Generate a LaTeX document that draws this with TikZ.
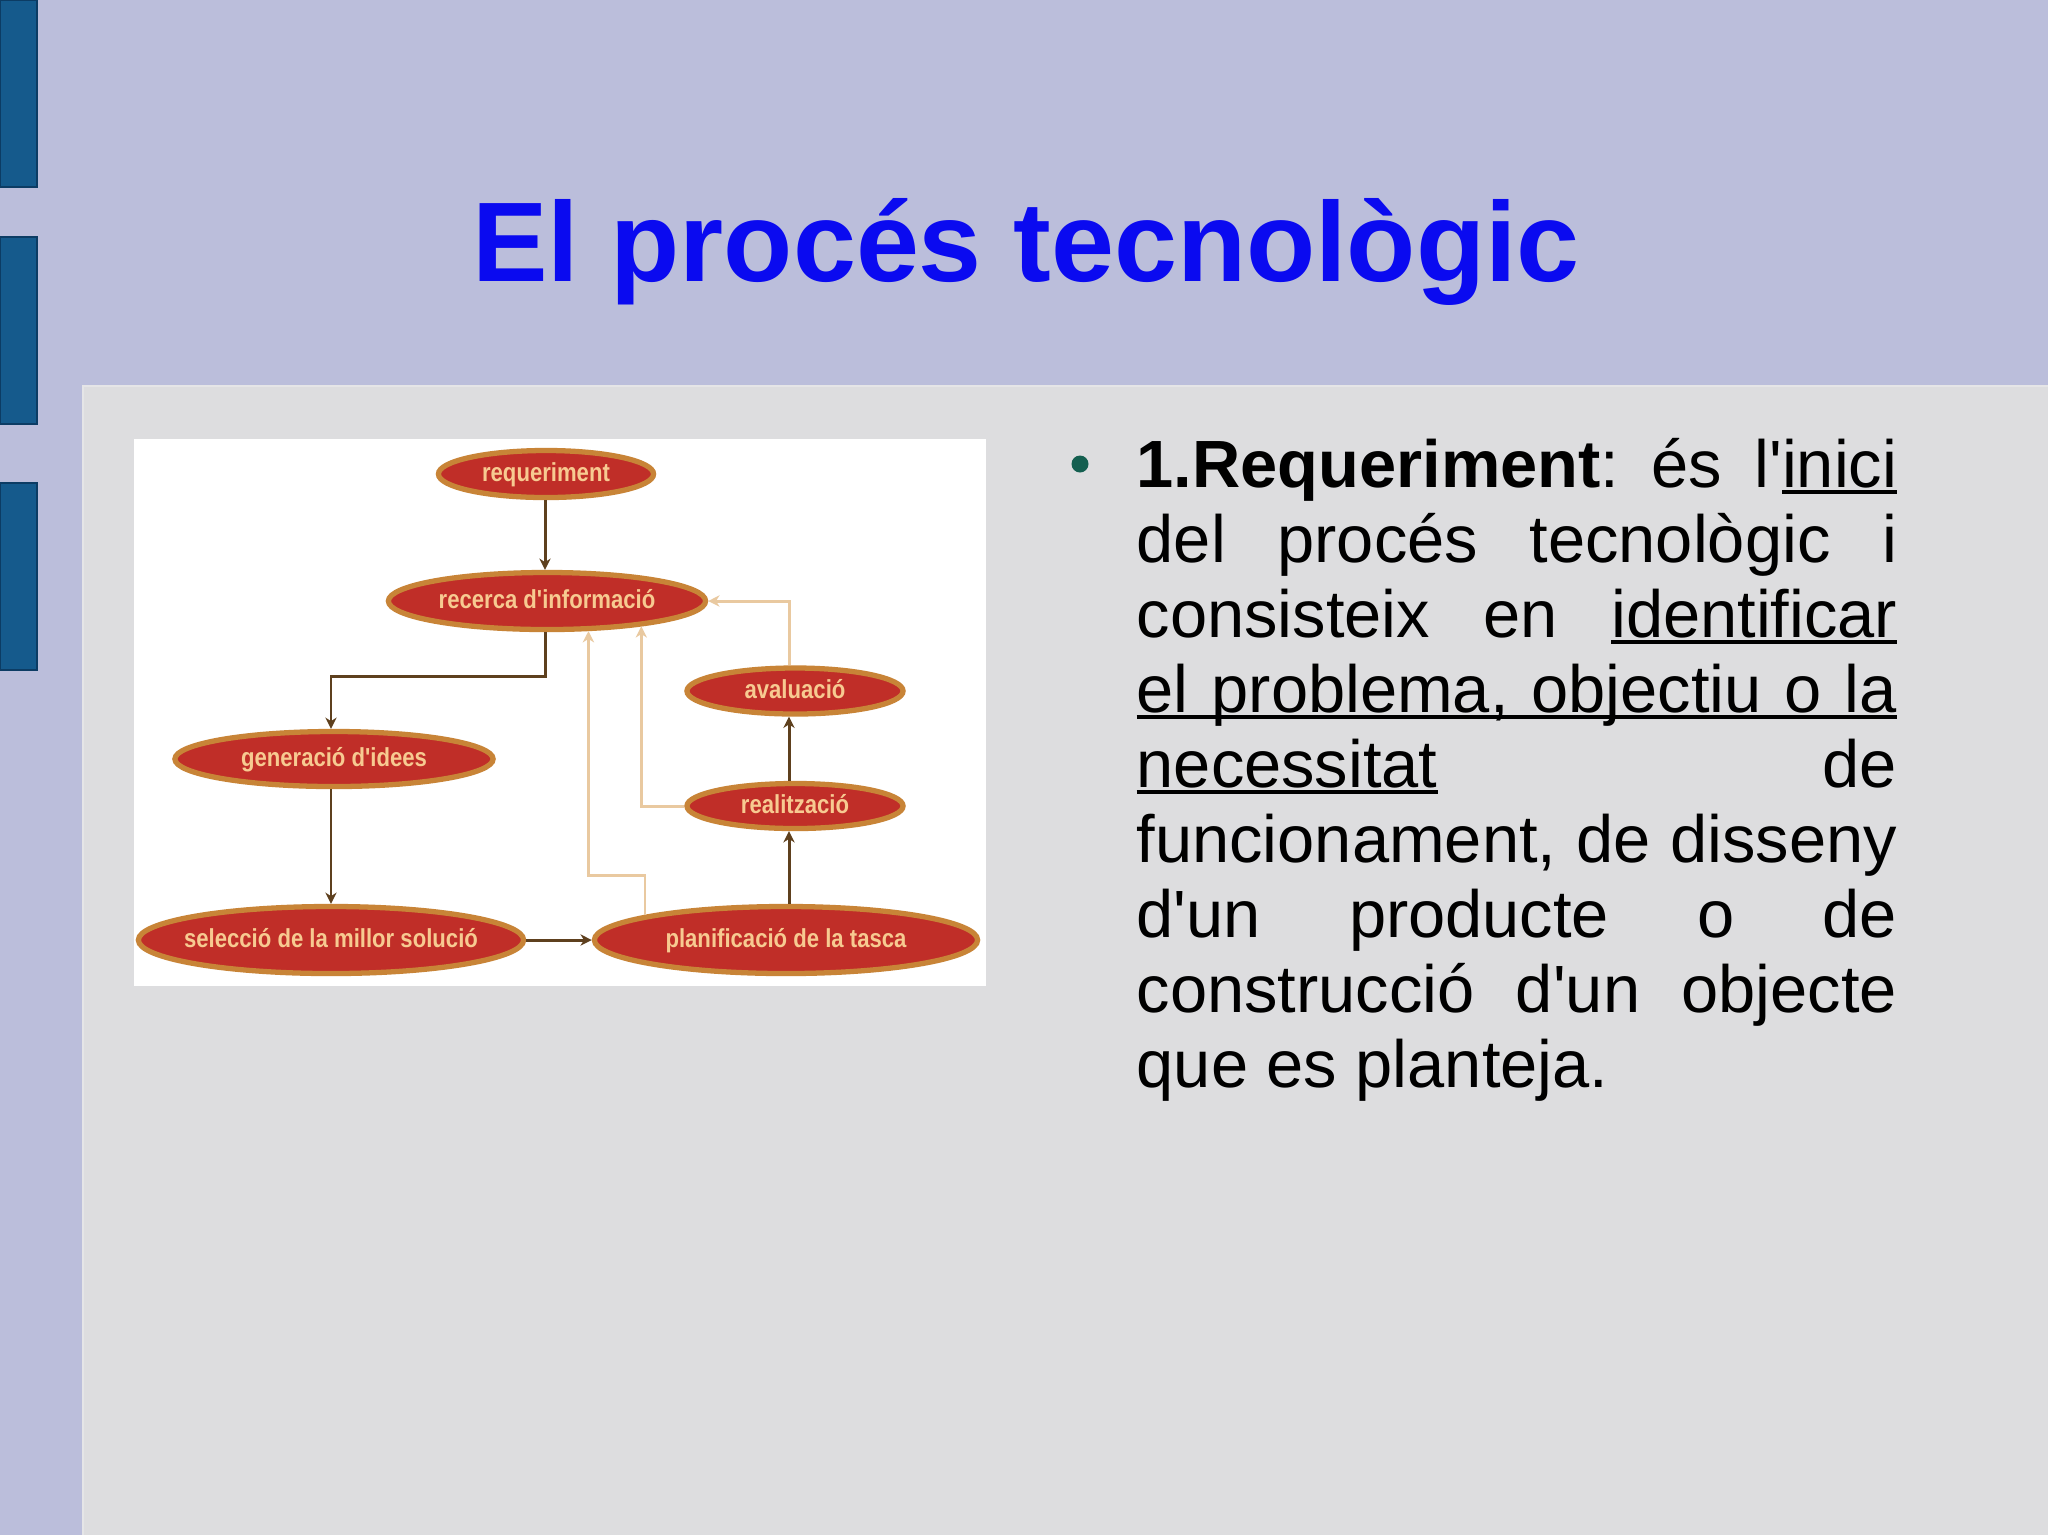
\documentclass[tikz,border=0pt]{standalone}
\usepackage{fontspec}
\setmainfont{Liberation Sans}[Ligatures=TeXOff]
\newfontfamily\nodefont{Liberation Sans}[FakeStretch=0.85,Ligatures=TeXOff]
\usetikzlibrary{arrows.meta,shapes.geometric}
\definecolor{bgl}{RGB}{187,190,219}
\definecolor{panelgrey}{RGB}{221,221,223}
\definecolor{barblue}{RGB}{21,90,140}
\definecolor{bardark}{RGB}{12,60,100}
\definecolor{titleblue}{RGB}{10,10,240}
\definecolor{bulletgreen}{RGB}{20,95,80}
\definecolor{nodered}{RGB}{192,46,40}
\definecolor{nodegold}{RGB}{200,132,55}
\definecolor{nodetext}{RGB}{247,202,145}
\definecolor{arrbrown}{RGB}{94,64,30}
\definecolor{fbtan}{RGB}{233,201,160}
\newcommand\myul[1]{\setbox0\hbox{#1}\rlap{\rule[-0.1em]{\wd0}{0.055em}}\box0\relax}
\frenchspacing
\begin{document}
\begin{tikzpicture}[x=0.01cm,y=-0.01cm,
  proc/.style={ellipse, fill=nodered, draw=nodegold, line width=1.5pt, inner sep=0pt,
    text=nodetext, text height=6pt, text depth=1.5pt,
    font=\nodefont\bfseries\fontsize{7.4pt}{9pt}\selectfont},
  main/.style={draw=arrbrown, line width=0.85pt, -{Stealth[length=3.2pt,width=3.2pt,inset=1pt]}},
  fb/.style={draw=fbtan, line width=0.85pt, -{Stealth[length=3.2pt,width=3.2pt,inset=1pt]}},
  bodytxt/.style={anchor=base west, inner sep=0pt, font=\fontsize{19pt}{22pt}\selectfont\frenchspacing}]
\fill[bgl] (0,0) rectangle (2048,1535);
\useasboundingbox (0,0) rectangle (2048,1535);
% left bars
\foreach \a/\b in {0/187,237/424,483/670}
  \filldraw[fill=barblue, draw=bardark, line width=0.5pt] (0,\a) rectangle (37,\b);
% content panel
\fill[panelgrey] (82,385) rectangle (2048,1535);
\draw[white!25!panelgrey, line width=0.8pt] (83,1535) -- (83,386) -- (2048,386);
% title
\node[anchor=base, inner sep=0pt, text=titleblue, font=\bfseries\fontsize{32.2pt}{38pt}\selectfont] (title) at (1026,281) {El procés tecnològic};
% picture
\fill[white] (134,439) rectangle (986,986);
\node[proc, minimum width=2.15cm, minimum height=0.47cm] (req) at (546,474) {\makebox[0pt]{requeriment}};
\node[proc, minimum width=3.17cm, minimum height=0.57cm] (rec) at (547,601) {\makebox[0pt]{recerca d'informació}};
\node[proc, minimum width=2.16cm, minimum height=0.46cm] (ava) at (795,691) {\makebox[0pt]{avaluació}};
\node[proc, minimum width=3.18cm, minimum height=0.55cm] (gen) at (334,759) {\makebox[0pt]{generació d'idees}};
\node[proc, minimum width=2.16cm, minimum height=0.45cm] (real) at (795,806) {\makebox[0pt]{realització}};
\node[proc, minimum width=3.85cm, minimum height=0.67cm] (sel) at (331,940) {\makebox[0pt]{selecció de la millor solució}};
\node[proc, minimum width=3.83cm, minimum height=0.67cm] (plan) at (786,940) {\makebox[0pt]{planificació de la tasca}};
\coordinate (mx) at (545,0);
\coordinate (lx) at (331,0);
\coordinate (vx) at (789,0);
\coordinate (j1) at (0,676);
% main flow
\draw[main] (mx |- req.south) -- (mx |- rec.north);
\draw[main] (mx |- rec.south) |- (lx |- j1) -- (lx |- gen.north);
\draw[main] (lx |- gen.south) -- (lx |- sel.north);
\draw[main] (sel.east) -- (plan.west);
\draw[main] (vx |- plan.north) -- (vx |- real.south);
\draw[main] (vx |- real.north) -- (vx |- ava.south);
% feedback
\draw[fb] (vx |- ava.north) |- (rec.east);
\draw[fb] (real.west) -| (rec.-15);
\draw[fb] (plan.170.5) -- ++(0,-40) -| (rec.-36);
% text
\node[circle, fill=bulletgreen, minimum size=0.17cm, inner sep=0pt] (bul) at (1080,464) {};
\node[bodytxt] (l1) at (1136,487) {\makebox[7.6cm][s]{\textbf{1.Requeriment}: és l'\myul{inici}}};
\node[bodytxt] (l2) at (1136,562) {\makebox[7.6cm][s]{del procés tecnològic i}};
\node[bodytxt] (l3) at (1136,637) {\makebox[7.6cm][s]{consisteix en \myul{identificar}}};
\node[bodytxt] (l4) at (1136,712) {\rlap{\rule[-0.1em]{7.6cm}{0.055em}}\makebox[7.6cm][s]{el problema, objectiu o la}};
\node[bodytxt] (l5) at (1136,787) {\makebox[7.6cm][s]{\myul{necessitat} de}};
\node[bodytxt] (l6) at (1136,862) {\makebox[7.6cm][s]{funcionament, de disseny}};
\node[bodytxt] (l7) at (1136,937) {\makebox[7.6cm][s]{d'un producte o de}};
\node[bodytxt] (l8) at (1136,1012) {\makebox[7.6cm][s]{construcció d'un objecte}};
\node[bodytxt] (l9) at (1136,1087) {que es planteja.};
\end{tikzpicture}
\end{document}
